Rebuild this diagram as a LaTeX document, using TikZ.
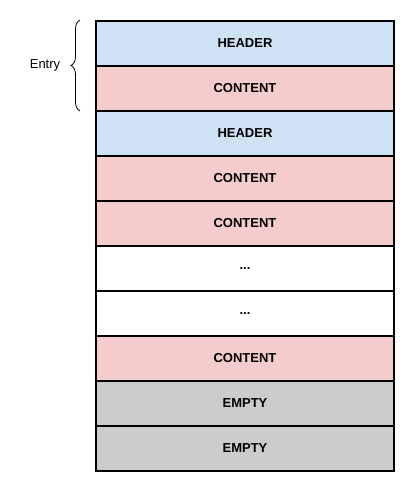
\documentclass[tikz,border=0pt]{standalone}
\usepackage{fontspec}
\setmainfont{Liberation Sans}
\usetikzlibrary{decorations.pathreplacing}

\definecolor{headerblue}{HTML}{CFE2F3}
\definecolor{contentpink}{HTML}{F4CCCC}
\definecolor{emptygrey}{HTML}{CCCCCC}

\begin{document}
\begin{tikzpicture}[x=1pt, y=-1pt,
        cell/.style={rectangle,draw=black,line width=2pt,minimum width=298pt,minimum height=45pt,inner sep=0pt,font=\fontsize{13}{15}\selectfont\bfseries},
        headercell/.style={cell,fill=headerblue},
        contentcell/.style={cell,fill=contentpink},
        blankcell/.style={cell,fill=white},
        emptycell/.style={cell,fill=emptygrey},]

        \useasboundingbox (0,0) rectangle (412,487);

        % Define the centres of the rows
        \coordinate (R1) at (245,43.5);
        \coordinate (R2) at (245,88.5);
        \coordinate (R3) at (245,133.5);
        \coordinate (R4) at (245,178.5);
        \coordinate (R5) at (245,223.5);
        \coordinate (R6) at (245,268.5);
        \coordinate (R7) at (245,313.5);
        \coordinate (R8) at (245,358.5);
        \coordinate (R9) at (245,403.5);
        \coordinate (R10) at (245,448.5);

        % Draw the rows
        \node[headercell] (header1) at (R1) {HEADER};
        \node[contentcell] (content1) at (R2) {CONTENT};
        \node[headercell] (header2) at (R3) {HEADER};
        \node[contentcell] (content2) at (R4) {CONTENT};
        \node[contentcell] (content3) at (R5) {CONTENT};
        \node[blankcell] (dots1) at (R6) {...};
        \node[blankcell] (dots2) at (R7) {...};
        \node[contentcell] (content4) at (R8) {CONTENT};
        \node[emptycell] (empty1) at (R9) {EMPTY};
        \node[emptycell] (empty2) at (R10) {EMPTY};

        % Brace for the first entry
        \coordinate (braceTop) at (80,20);
        \coordinate (braceBottom) at (80,111);
        \draw[line width=0.8pt, decorate, decoration={brace, amplitude=9pt}] (braceBottom) -- (braceTop);

        % Label for the entry
        \node[font=\fontsize{13}{15}\selectfont] (entry) at (45,65) {Entry};

    \end{tikzpicture}
\end{document}
